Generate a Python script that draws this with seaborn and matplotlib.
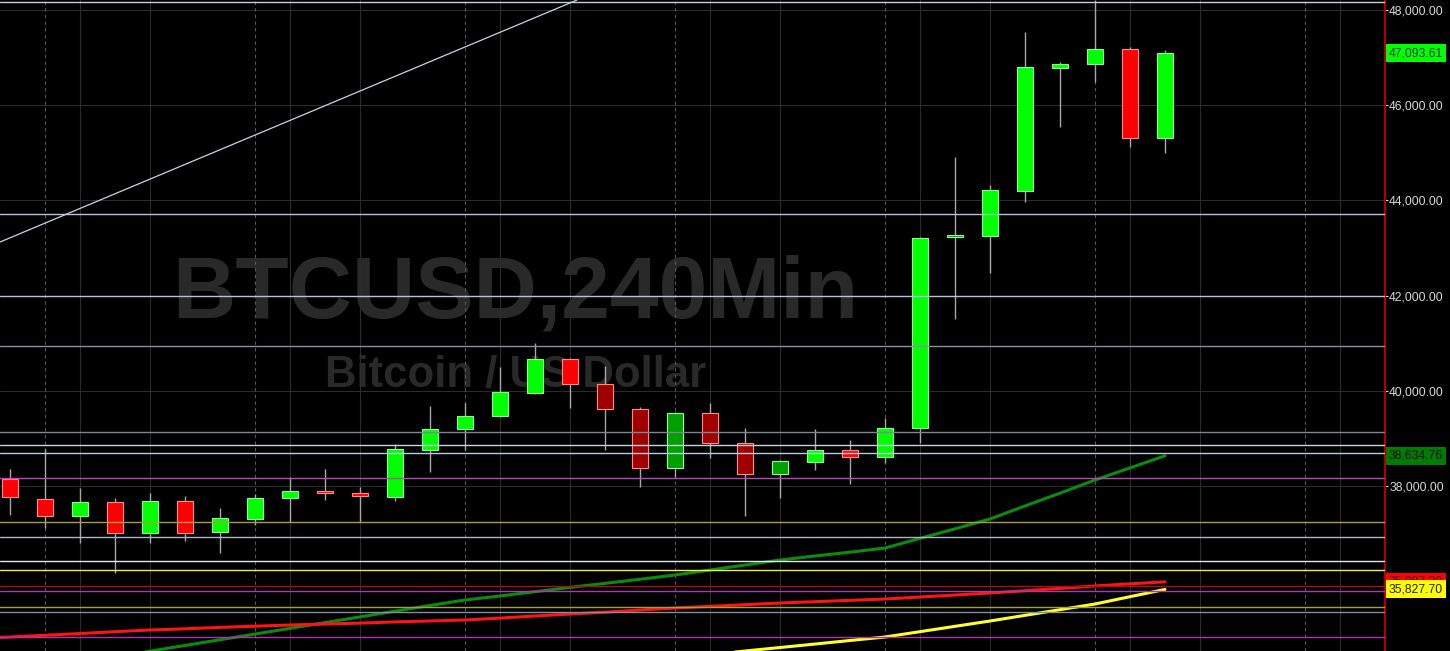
import numpy as np
import pandas as pd
import seaborn as sns
import matplotlib.pyplot as plt

# BTCUSD 240 min candles
opens = [38147, 37727, 37370, 37664, 37013, 37685, 37034, 37307, 37748, 37895,
         37847, 37763, 38763, 39198, 39471, 39948, 40662, 40143, 39618, 38372,
         39540, 38904, 38252, 38504, 38756, 38609, 39219, 43240, 43252, 44198,
         46782, 46866, 47181, 45311]
highs = [38357, 38777, 37958, 37748, 37853, 37790, 37538, 37832, 38189, 38357,
         37979, 38876, 39687, 39744, 40500, 41011, 40680, 40521, 39650, 39560,
         39750, 39219, 38546, 39198, 38967, 39429, 43231, 44912, 44324, 47538,
         46908, 48200, 47223, 47160]
lows = [37391, 37118, 36803, 36172, 36803, 36845, 36593, 37181, 37244, 37706,
        37244, 37691, 38300, 38756, 39450, 39940, 39632, 38756, 37985, 38196,
        38595, 37370, 37748, 38336, 38042, 38483, 38904, 41509, 42475, 43966,
        45542, 46487, 45122, 44996]
closes = [37769, 37370, 37664, 37013, 37685, 37013, 37328, 37748, 37895, 37843,
          37784, 38771, 39191, 39471, 39975, 40662, 40137, 39611, 38372, 39540,
          38897, 38252, 38525, 38756, 38609, 39219, 43210, 43252, 44219, 46803,
          46866, 47181, 45311, 47093.61]

# moving averages, starting one bar before the first candle
# (nan = below the visible range)
nan = np.nan
ma_green = [nan, nan, nan, nan, 34410, 34530, 34650, 34770, 34890, 35010, 35130,
            35250, 35370, 35490, 35605, 35690, 35780, 35870, 35955, 36040, 36130,
            36235, 36340, 36445, 36530, 36610, 36697, 36900, 37100, 37307, 37580,
            37850, 38126, 38380, 38634.76]
ma_red = [34795, 34828, 34865, 34900, 34940, 34975, 35000, 35030, 35055, 35080, 35100,
          35120, 35145, 35165, 35185, 35225, 35270, 35310, 35350, 35395, 35437,
          35472, 35507, 35542, 35570, 35598, 35626, 35668, 35710, 35752, 35800,
          35850, 35900, 35945, 35987.29]
ma_yellow = [nan] * 21 + [34460, 34534, 34607, 34680, 34755, 34828, 34940, 35052,
                          35164, 35283, 35402, 35521, 35675, 35827.70]

# horizontal levels
levels = [48168, 43714, 41992, 40941, 39145, 38862, 38693, 38168, 37254, 36929,
          36435, 36236, 35899, 35794, 35458, 35353, 34828]
level_colors = ["#c0d0e0", "#b0c4de", "#b0c4de", "#8494a4", "#7c8894", "#c8d2de",
                "#b8cce0", "#c040c8", "#a8a040", "#a8b8c8", "#e0e8f0", "#f0f040",
                "#a81010", "#a838b8", "#a8a030", "#8090a0", "#b030b0"]

# trend line anchors (bar index, price)
trend_x = [0, 16]
trend_y = [43214, 48148]

# bars drawn in the darker shade
dim_bars = [17, 18, 19, 20, 21, 22, 27]

yticks = [38000, 40000, 42000, 44000, 46000, 48000]

sns.set_theme(style="dark", rc={"axes.facecolor": "black",
                                "figure.facecolor": "black",
                                "savefig.facecolor": "black"})
plt.rcParams["font.family"] = ["Liberation Sans", "DejaVu Sans"]

fig = plt.figure(figsize=(14.5, 6.51), dpi=100)
ax = fig.add_axes([0, 0, 1385 / 1450, 1])
ax.set_facecolor("black")

n = len(opens)
idx = np.arange(n)

# watermark
ax.text(0.372, 0.5123, "BTCUSD,240Min", transform=ax.transAxes, ha="center",
        va="baseline", fontsize=63, fontweight="bold", color="#292929", zorder=0)
ax.text(0.3725, 0.4055, "Bitcoin / US Dollar", transform=ax.transAxes, ha="center",
        va="baseline", fontsize=31.5, fontweight="bold", color="#292929", zorder=0)

# grid
for t in yticks:
    ax.axhline(t, color="#2b2b2b", lw=0.8, zorder=0.5)
for k in range(1, 40, 6):
    ax.axvline(k, color="#595959", lw=0.8, ls=(0, (3, 3)), zorder=0.5)
    for j in (1, 3):
        ax.axvline(k + j, color="#2b2b2b", lw=0.8, zorder=0.5)

# moving averages
ma = pd.DataFrame({"bar": np.arange(-1, n), "green": ma_green, "red": ma_red,
                   "yellow": ma_yellow})
ma_long = ma.melt(id_vars="bar", var_name="ma", value_name="price").dropna()
sns.lineplot(data=ma_long, x="bar", y="price", hue="ma", estimator=None,
             palette={"green": "#0c8c0c", "red": "#ff1414", "yellow": "#ffff30"},
             linewidth=2.2, legend=False, ax=ax, zorder=2)

# candles
for i in range(n):
    o, h, l, c = opens[i], highs[i], lows[i], closes[i]
    up = c >= o
    if i in dim_bars:
        fill = "#00a000" if up else "#a00000"
    else:
        fill = "#00ff00" if up else "#ff0000"
    edge = "#8cff8c" if up else "#ff8a8a"
    ax.vlines(i, l, h, color="#a8a8a8", lw=1.0, zorder=3)
    body = max(abs(c - o), 40)
    ax.bar(i, body, bottom=min(o, c), width=0.45, color=fill, edgecolor=edge,
           linewidth=0.8, zorder=4)

# horizontal levels and trend line
for lv, col in zip(levels, level_colors):
    ax.axhline(lv, color=col, lw=1.0, zorder=5)
ax.axline((trend_x[0], trend_y[0]), (trend_x[1], trend_y[1]),
          color="#c8d4e4", lw=0.9, zorder=5)

ax.set_xlim(-0.2857, 39.286)
ax.set_ylim(34534, 48210)
ax.set_xlabel("")
ax.set_ylabel("")
ax.set_xticks([])

# right price axis
ax.yaxis.tick_right()
ax.set_yticks(yticks)
ax.set_yticklabels([f"{t:,.2f}" for t in yticks])
ax.tick_params(axis="y", colors="#d8d8d8", labelsize=8.7, length=2.5, width=0.8,
               pad=0.5, right=True, left=False)
for s in ("left", "top", "bottom"):
    ax.spines[s].set_visible(False)
ax.spines["right"].set_color("#b00000")
ax.spines["right"].set_linewidth(1.5)

# last value tags (red one sits partly under the yellow one, as on the chart)
tags = [(ma_red[-1], "#ff0000", "#3a0000"),
        (ma_yellow[-1], "#ffff00", "#202000"),
        (ma_green[-1], "#007c00", "#101010"),
        (closes[-1], "#00ff00", "#1c3a1c")]
for val, bg, fg in tags:
    ax.annotate(f"{val:,.2f}", xy=(1, val), xycoords=("axes fraction", "data"),
                xytext=(4, 0), textcoords="offset pixels", va="center", ha="left",
                fontsize=8.7, color=fg, annotation_clip=False, zorder=10,
                bbox=dict(boxstyle="square,pad=0.25", fc=bg, ec="none"))

fig.savefig("out.png", dpi=100, facecolor="black")
